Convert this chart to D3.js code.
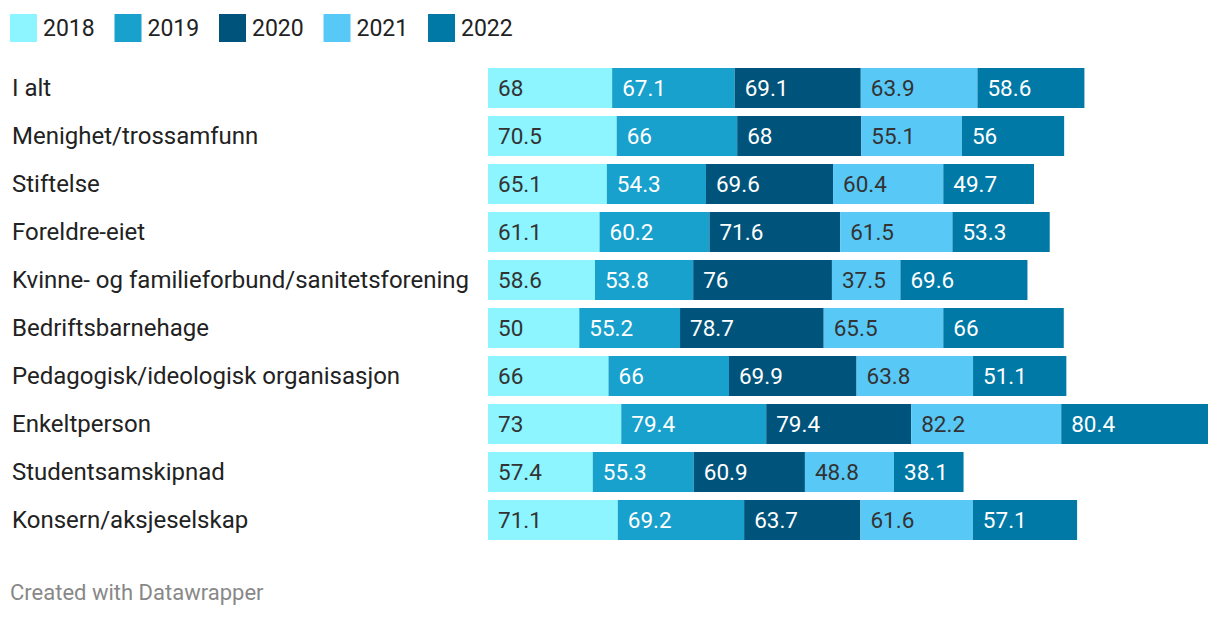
<!DOCTYPE html>
<html><head><meta charset="utf-8">
<script src="https://cdn.jsdelivr.net/npm/d3@7"></script>
<style>body{margin:0;background:#fff;font-family:Roboto,sans-serif}</style>
</head><body>
<svg id="c" width="1220" height="618"></svg>
<script>
const categories = ["I alt","Menighet/trossamfunn","Stiftelse","Foreldre-eiet","Kvinne- og familieforbund/sanitetsforening","Bedriftsbarnehage","Pedagogisk/ideologisk organisasjon","Enkeltperson","Studentsamskipnad","Konsern/aksjeselskap"];
const years = ["2018","2019","2020","2021","2022"];
const v2018 = [68,70.5,65.1,61.1,58.6,50,66,73,57.4,71.1];
const v2019 = [67.1,66,54.3,60.2,53.8,55.2,66,79.4,55.3,69.2];
const v2020 = [69.1,68,69.6,71.6,76,78.7,69.9,79.4,60.9,63.7];
const v2021 = [63.9,55.1,60.4,61.5,37.5,65.5,63.8,82.2,48.8,61.6];
const v2022 = [58.6,56,49.7,53.3,69.6,66,51.1,80.4,38.1,57.1];
const colors = ["#8cf5ff","#18a1cd","#00547b","#58c9f7","#0079a7"];
const textColors = ["#333","#fff","#fff","#333","#fff"];

const series = [v2018,v2019,v2020,v2021,v2022];
const rows = categories.map((c,i)=>{const o={cat:c}; years.forEach((y,j)=>o[y]=series[j][i]); return o;});
const stack = d3.stack().keys(years)(rows);
const maxTotal = d3.max(rows, r=>d3.sum(years, y=>r[y]));

const svg = d3.select("#c");
const x = d3.scaleLinear().domain([0,maxTotal]).range([488,1208]);
const y = d3.scaleBand().domain(categories).range([64,544]).paddingInner(8/48).paddingOuter(4/48);

// legend
const lg = svg.append("g");
years.forEach((yr,i)=>{
  const g = lg.append("g").attr("transform",`translate(${10+i*104.5},14)`);
  g.append("rect").attr("width",27).attr("height",28).attr("fill",colors[i]);
  g.append("text").attr("x",33).attr("y",22).attr("font-size",23).attr("fill","#222").text(yr);
});

// row labels
svg.append("g").selectAll("text").data(categories).join("text")
  .attr("x",12).attr("y",d=>y(d)+y.bandwidth()/2+8)
  .attr("font-size",24).attr("fill","#222").text(d=>d);

// bars
stack.forEach((s,j)=>{
  const g = svg.append("g");
  g.selectAll("rect").data(s).join("rect")
    .attr("x",d=>x(d[0])).attr("width",d=>x(d[1])-x(d[0]))
    .attr("y",(d,i)=>y(categories[i])).attr("height",y.bandwidth())
    .attr("fill",colors[j]);
  g.selectAll("text").data(s).join("text")
    .attr("x",d=>x(d[0])+10).attr("y",(d,i)=>y(categories[i])+y.bandwidth()/2+8)
    .attr("font-size",22.5).attr("fill",textColors[j]).text(d=>d.data[years[j]]);
});

svg.append("text").attr("x",10).attr("y",600).attr("font-size",22).attr("fill","#888").text("Created with Datawrapper");
</script>
</body></html>
